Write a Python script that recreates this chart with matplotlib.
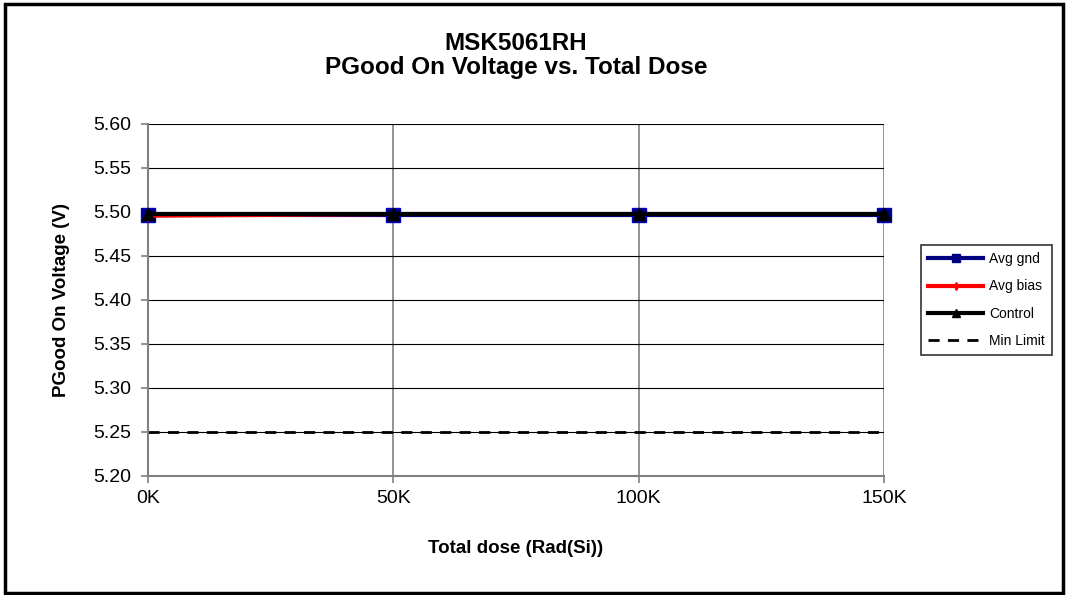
import numpy as np
import matplotlib as mpl
mpl.use('Agg')
import matplotlib.pyplot as plt
from matplotlib.patches import Rectangle
from matplotlib.lines import Line2D

plt.rcParams['font.family'] = ['Liberation Sans', 'DejaVu Sans']

# data
dose = [0, 50, 100, 150]
tick_labels = ['0K', '50K', '100K', '150K']
avg_gnd = [5.497, 5.497, 5.497, 5.497]
avg_bias = [5.495, 5.497, 5.497, 5.497]
control = [5.498, 5.498, 5.498, 5.498]
min_limit = [5.25, 5.25, 5.25, 5.25]

fig = plt.figure(figsize=(10.66, 5.95), dpi=100)
# outer chart frame
fig.patches.append(Rectangle((0.005, 0.003), 0.992, 0.99, transform=fig.transFigure,
                             fill=False, edgecolor='black', linewidth=2.5))

ax = fig.add_axes([0.1388, 0.2, 0.6905, 0.5916])

ax.plot(dose, avg_gnd, color='#000080', linewidth=3, marker='s', markersize=10,
        markerfacecolor='#000080', markeredgecolor='#0000c0', zorder=3, clip_on=False)
ax.plot(dose, avg_bias, color='red', linewidth=2, marker='d', markersize=5,
        zorder=4, clip_on=False)
ax.plot(dose, control, color='black', linewidth=3, marker='^', markersize=8,
        zorder=5, clip_on=False)
ax.plot(dose, min_limit, color='black', linewidth=2, linestyle=(0, (4, 3)), zorder=2)

ax.set_xlim(0, 150)
ax.set_ylim(5.20, 5.60)
ax.set_xticks(dose)
ax.set_xticklabels(tick_labels)
ax.set_yticks(np.arange(5.20, 5.601, 0.05))
ax.yaxis.set_major_formatter(mpl.ticker.FormatStrFormatter('%.2f'))
ax.tick_params(axis='both', labelsize=14, length=5, color='#808080', width=1.2)
ax.tick_params(axis='x', pad=5)
ax.tick_params(axis='y', pad=7)

ax.grid(axis='y', color='black', linewidth=0.8)
ax.grid(axis='x', color='#808080', linewidth=1.2)
ax.set_axisbelow(True)
for s in ['top', 'right']:
    ax.spines[s].set_visible(False)
for s in ['left', 'bottom']:
    ax.spines[s].set_color('#808080')
    ax.spines[s].set_linewidth(1.5)

ax.set_xlabel('Total dose (Rad(Si))', fontsize=13.5, fontweight='bold', labelpad=24)
ax.set_ylabel('PGood On Voltage (V)', fontsize=13.5, fontweight='bold', labelpad=17)
ax.set_title('MSK5061RH\nPGood On Voltage vs. Total Dose', fontsize=17.5,
             fontweight='bold', pad=36, linespacing=1.05)

handles = [
    Line2D([], [], color='#000080', linewidth=3, marker='s', markersize=6),
    Line2D([], [], color='red', linewidth=3, marker='d', markersize=4),
    Line2D([], [], color='black', linewidth=3, marker='^', markersize=6),
    Line2D([], [], color='black', linewidth=2, linestyle=(0, (4, 3))),
]
names = ['Avg gnd', 'Avg bias', 'Control', 'Min Limit']
leg = ax.legend(handles, names, loc='center left', bbox_to_anchor=(1.05, 0.5),
                fontsize=10, frameon=True, fancybox=False, edgecolor='black',
                handlelength=4.0, labelspacing=0.95, borderpad=0.5, handletextpad=0.4,
                borderaxespad=0)
leg.get_frame().set_linewidth(1.2)

fig.savefig('out.png', dpi=100)
